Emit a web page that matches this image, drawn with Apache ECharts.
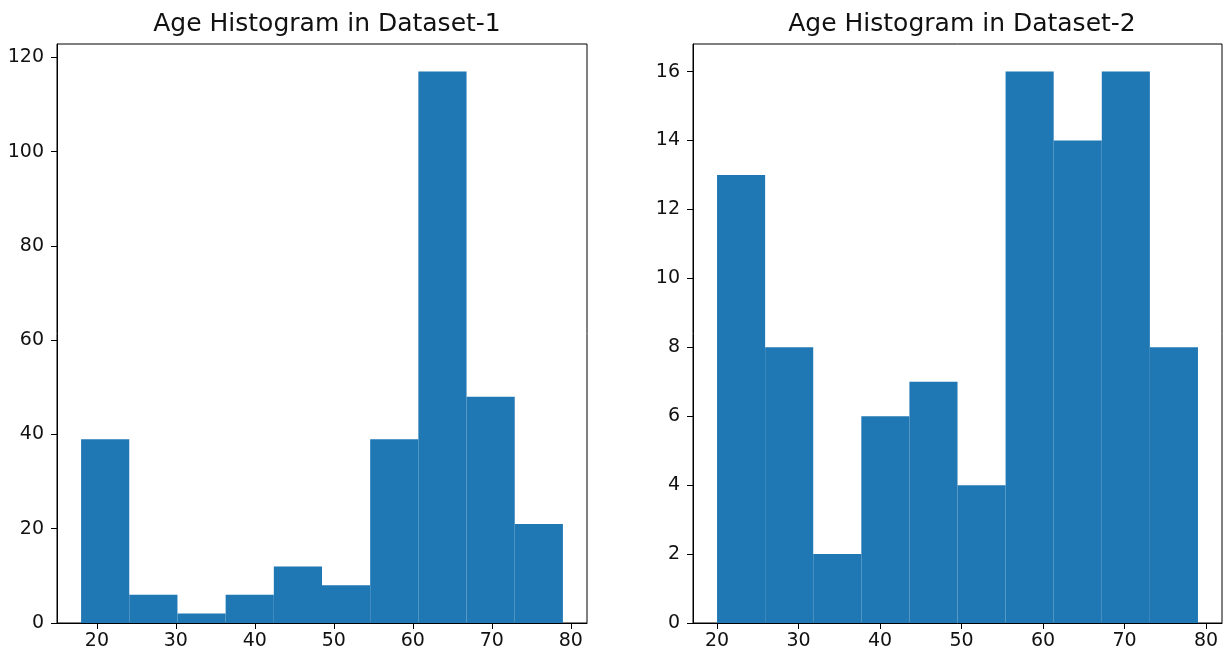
<!DOCTYPE html>
<html>
<head>
<meta charset="utf-8">
<title>Age Histograms</title>
<script src="https://cdn.jsdelivr.net/npm/echarts@6.0.0/dist/echarts.min.js"></script>
<style>
  html, body { margin: 0; padding: 0; background: #fff; }
  #chart { width: 1225px; height: 658px; }
</style>
</head>
<body>
<div id="chart"></div>
<script>
// --- Data ---

const titles = ['Age Histogram in Dataset-1', 'Age Histogram in Dataset-2'];

// bin edges (ages) and counts per bin
const edges1 = [18, 24.1, 30.2, 36.3, 42.4, 48.5, 54.6, 60.7, 66.8, 72.9, 79];
const counts1 = [39, 6, 2, 6, 12, 8, 39, 117, 48, 21];

const edges2 = [20, 25.9, 31.8, 37.7, 43.6, 49.5, 55.4, 61.3, 67.2, 73.1, 79];
const counts2 = [13, 8, 2, 6, 7, 4, 16, 14, 16, 8];

// tick labels
const xTicks = [20, 30, 40, 50, 60, 70, 80];
const yTicks1 = [0, 20, 40, 60, 80, 100, 120];
const yTicks2 = [0, 2, 4, 6, 8, 10, 12, 14, 16];

// --- Helpers ---

const BAR_COLOR = '#1f77b4';
const FONT = 'DejaVu Sans';
const TEXT_COLOR = '#111';

const toBins = (edges, counts) => counts.map((c, i) => [edges[i], edges[i + 1], c]);

const renderBin = (params, api) => {
    const p0 = api.coord([api.value(0), 0]);
    const p1 = api.coord([api.value(1), api.value(2)]);
    return {
        type: 'rect',
        shape: { x: p0[0], y: p1[1], width: p1[0] - p0[0], height: p0[1] - p1[1] },
        style: { fill: BAR_COLOR }
    };
};

const makeX = (gridIndex, min, max) => ({
    type: 'value', gridIndex, min, max, z: 5,
    axisLine: { show: true, onZero: false, lineStyle: { color: '#000', width: 1 } },
    axisTick: { show: true, inside: false, length: 6, customValues: xTicks, lineStyle: { color: '#000' } },
    axisLabel: { customValues: xTicks, color: TEXT_COLOR, fontFamily: FONT, fontSize: 19, margin: 9 },
    splitLine: { show: false }
});

const makeY = (gridIndex, max, ticks) => ({
    type: 'value', gridIndex, min: 0, max, z: 5,
    axisLine: { show: true, onZero: false, lineStyle: { color: '#000', width: 1 } },
    axisTick: { show: true, inside: false, length: 6, customValues: ticks, lineStyle: { color: '#000' } },
    axisLabel: { customValues: ticks, color: TEXT_COLOR, fontFamily: FONT, fontSize: 19, margin: 13 },
    splitLine: { show: false }
});

const chart = echarts.init(document.getElementById('chart'), null, { renderer: 'canvas' });

const gridBox = { top: 44, height: 579, width: 530, show: true, borderColor: '#000', borderWidth: 1, backgroundColor: 'transparent' };

const titleStyle = { fontFamily: FONT, fontSize: 25, fontWeight: 'normal', color: TEXT_COLOR };

chart.setOption({
    animation: false,
    backgroundColor: '#fff',
    title: [
        { text: titles[0], left: 322, top: 7, textAlign: 'center', textStyle: titleStyle },
        { text: titles[1], left: 957, top: 7, textAlign: 'center', textStyle: titleStyle }
    ],
    grid: [
        Object.assign({}, gridBox, { left: 57 }),
        Object.assign({}, gridBox, { left: 693, width: 529 })
    ],
    xAxis: [makeX(0, 14.95, 82.05), makeX(1, 17.05, 81.95)],
    yAxis: [makeY(0, 122.85, yTicks1), makeY(1, 16.8, yTicks2)],
    series: [
        { type: 'custom', xAxisIndex: 0, yAxisIndex: 0, renderItem: renderBin,
          encode: { x: [0, 1], y: 2 }, data: toBins(edges1, counts1), z: 2 },
        { type: 'custom', xAxisIndex: 1, yAxisIndex: 1, renderItem: renderBin,
          encode: { x: [0, 1], y: 2 }, data: toBins(edges2, counts2), z: 2 }
    ]
});
</script>
</body>
</html>
